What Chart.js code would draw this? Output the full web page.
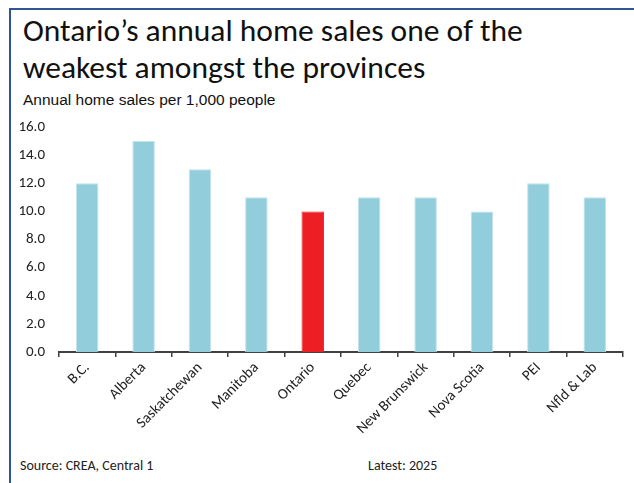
<!DOCTYPE html>
<html>
<head>
<meta charset="utf-8">
<script src="https://cdn.jsdelivr.net/npm/chart.js@4.4.1/dist/chart.umd.min.js"></script>
<style>
  body { margin: 0; background: #fff; }
  #wrap { position: relative; width: 634px; height: 483px; overflow: hidden; background: #fff;
          font-family: Carlito, "Open Sans", "Noto Sans", sans-serif; }
  #frame { position: absolute; left: 9px; top: 8px; right: -5px; bottom: -5px;
           border-top: 2px solid #2f5597; border-left: 2px solid #2f5597; }
  #title { position: absolute; left: 23px; top: 12px; font-size: 31.5px; line-height: 37px;
           color: #111; font-weight: 300; white-space: nowrap; }
  #subtitle { position: absolute; left: 23px; top: 91px; font-size: 15.5px;
              font-family: "Liberation Sans", Arial, sans-serif; color: #111; }
  .foot { position: absolute; top: 457px; font-size: 14px; color: #222; }
  #chartBox { position: absolute; left: 0; top: 104px; width: 634px; height: 376px; }
</style>
</head>
<body>
<div id="wrap">
  <div id="frame"></div>
  <div id="title">Ontario’s annual home sales one of the<br>weakest amongst the provinces</div>
  <div id="subtitle">Annual home sales per 1,000 people</div>
  <div class="foot" style="left:20px">Source: CREA, Central 1</div>
  <div class="foot" style="left:368px">Latest: 2025</div>
  <div id="chartBox"><canvas id="salesChart"></canvas></div>
</div>
<script>
// provinces and annual home sales per 1,000 people
const provinces = ['B.C.', 'Alberta', 'Saskatchewan', 'Manitoba', 'Ontario', 'Quebec',
                   'New Brunswick', 'Nova Scotia', 'PEI', 'Nfld & Lab'];
const salesPer1000 = [12, 15, 13, 11, 10, 11, 11, 10, 12, 11];
const highlight = 'Ontario';

// y axis ticks
const yMin = 0;
const yMax = 16;
const yStep = 2;

const baseFont = 'Carlito, "Open Sans", "Noto Sans", sans-serif';

function createSalesChart() {
    const ctx = document.getElementById('salesChart');
    if (!ctx) return;

    const fills = provinces.map(p => p === highlight ? '#ee1f24' : '#92cddc');
    const edges = provinces.map(p => p === highlight ? '#ee1f24' : '#c2e4ec');

    new Chart(ctx, {
        type: 'bar',
        data: {
            labels: provinces,
            datasets: [{
                data: salesPer1000,
                backgroundColor: fills,
                borderColor: edges,
                borderWidth: 1,
                categoryPercentage: 1,
                barPercentage: 0.4
            }]
        },
        options: {
            responsive: true,
            maintainAspectRatio: false,
            animation: false,
            layout: { padding: { top: 6, right: 11, left: 0, bottom: 0 } },
            plugins: {
                legend: { display: false },
                tooltip: { enabled: false }
            },
            scales: {
                x: {
                    afterFit: s => { s.height = 128; },
                    grid: {
                        drawOnChartArea: false,
                        drawTicks: true,
                        tickLength: 5,
                        color: '#404040',
                        lineWidth: 1.5
                    },
                    border: { display: true, color: '#404040', width: 2 },
                    ticks: {
                        minRotation: 45,
                        maxRotation: 45,
                        padding: 2,
                        color: '#222',
                        font: { family: baseFont, size: 15 }
                    }
                },
                y: {
                    min: yMin,
                    max: yMax,
                    afterFit: s => { s.width = 59; },
                    grid: { display: false, drawTicks: false },
                    border: { display: false },
                    ticks: {
                        stepSize: yStep,
                        padding: 14,
                        color: '#222',
                        font: { family: baseFont, size: 15 },
                        callback: v => v.toFixed(1)
                    }
                }
            }
        }
    });
}

createSalesChart();
</script>
</body>
</html>
